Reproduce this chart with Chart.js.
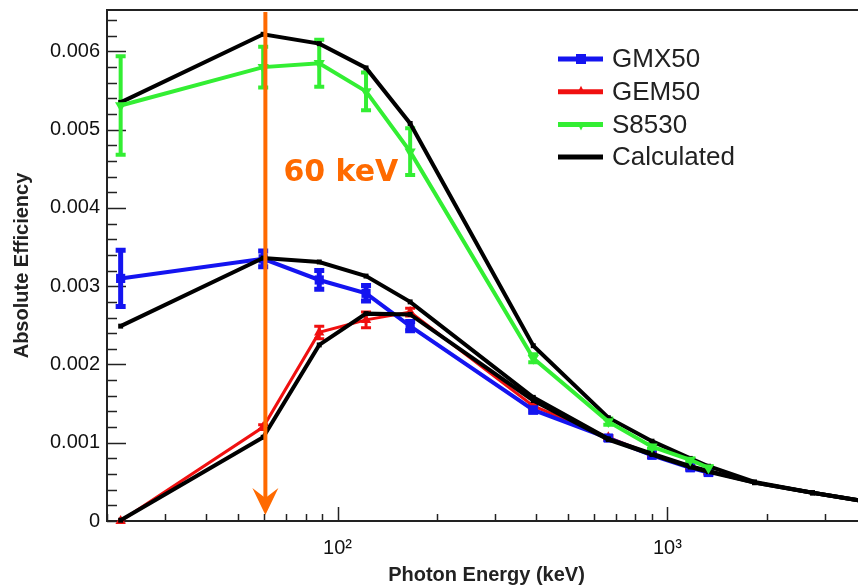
<!DOCTYPE html>
<html><head><meta charset="utf-8">
<script src="https://cdn.jsdelivr.net/npm/chart.js@4.4.1/dist/chart.umd.min.js"></script>
<style>
html,body{margin:0;padding:0;background:#fff;overflow:hidden;width:858px;height:587px}
#wrap{position:absolute;left:0;top:0;width:880px;height:587px}
</style>
</head><body><div id="wrap"><canvas id="c" width="880" height="587"></canvas></div>
<script>
// ---- data (efficiency vs photon energy in keV) ----
const energies      = [22, 59.5, 88, 122, 166, 392, 662, 898, 1173, 1332];
const gmx50         = [0.00310, 0.00335, 0.00308, 0.00291, 0.00249, 0.00142, 0.00106, 0.00084, 0.00068, 0.00062];
const gmx50Err      = [0.00036, 0.00010, 0.00012, 0.00010, 0.00006, 0.00003, 0.00002, 0.00002, 0.00002, 0.00002];
const gem50         = [0.00000, 0.00120, 0.00241, 0.00257, 0.00267, 0.00147, 0.00107, 0.00085, 0.00069, 0.00063];
const gem50Err      = [0.00000, 0.00003, 0.00008, 0.00010, 0.00005, 0.00003, 0.00002, 0.00002, 0.00002, 0.00002];
const s8530         = [0.00531, 0.00580, 0.00585, 0.00549, 0.00472, 0.00208, 0.00127, 0.00095, 0.00078, 0.00068];
const s8530Err      = [0.00063, 0.00026, 0.00030, 0.00024, 0.00030, 0.00005, 0.00004, 0.00003, 0.00002, 0.00002];

const calcEnergies  = [22, 59.5, 88, 122, 166, 392, 662, 898, 1173, 1332, 1836, 2754, 4000];
const calcGMX50     = [0.00249, 0.00336, 0.00331, 0.00313, 0.00280, 0.00158, 0.00105, 0.00086, 0.00070, 0.00064, 0.00049, 0.00036, 0.00025];
const calcGEM50     = [0.00001, 0.00107, 0.00225, 0.00265, 0.00264, 0.00154, 0.00104, 0.00085, 0.00069, 0.00063, 0.00049, 0.00036, 0.00025];
const calcS8530     = [0.00535, 0.00622, 0.00610, 0.00579, 0.00508, 0.00224, 0.00132, 0.00102, 0.00080, 0.00070, 0.00050, 0.00036, 0.00025];

const seriesNames   = ['GMX50', 'GEM50', 'S8530', 'Calculated'];
const yTickValues   = [0, 0.001, 0.002, 0.003, 0.004, 0.005, 0.006];
const yTickLabels   = ['0', '0.001', '0.002', '0.003', '0.004', '0.005', '0.006'];
const xTickValues   = [100, 1000];
const xTickLabels   = ['10\u00B2', '10\u00B3'];
const xMinorTicks   = [20, 30, 40, 50, 60, 70, 80, 90, 200, 300, 400, 500, 600, 700, 800, 900, 2000, 3000];
const arrowEnergy   = 60;
const arrowLabel    = '60 keV';

// ---- styles ----
const BLUE = '#1414f0', RED = '#f01010', GREEN = '#33ee33', BLACK = '#000000', ORANGE = '#ff6a00';
const FONT = "'Liberation Sans', Arial, sans-serif";

const pts = (xs, ys) => xs.map((x, i) => ({x, y: ys[i]}));

const datasets = [
  {label: seriesNames[0], data: pts(energies, gmx50), errorBars: gmx50Err, borderColor: BLUE, backgroundColor: BLUE,
   borderWidth: 4, pointStyle: 'rect', pointRadius: 6.5, pointBorderWidth: 0, order: 3, errW: 5},
  {label: seriesNames[1], data: pts(energies, gem50), errorBars: gem50Err, borderColor: RED, backgroundColor: RED,
   borderWidth: 3, pointStyle: 'triangle', pointRadius: 6, pointBorderWidth: 0, order: 4, errW: 3},
  {label: seriesNames[2], data: pts(energies, s8530), errorBars: s8530Err, borderColor: GREEN, backgroundColor: GREEN,
   borderWidth: 4, pointStyle: 'triangle', pointRotation: 180, pointRadius: 6.5, pointBorderWidth: 0, order: 0, errW: 4},
  {label: seriesNames[3], data: pts(calcEnergies, calcGMX50), borderColor: BLACK, backgroundColor: BLACK,
   borderWidth: 4, pointStyle: 'rect', pointRadius: 3.5, pointBorderWidth: 0, order: 2},
  {label: seriesNames[3], data: pts(calcEnergies, calcGEM50), borderColor: BLACK, backgroundColor: BLACK,
   borderWidth: 4, pointStyle: 'rect', pointRadius: 3.5, pointBorderWidth: 0, order: 2},
  {label: seriesNames[3], data: pts(calcEnergies, calcS8530), borderColor: BLACK, backgroundColor: BLACK,
   borderWidth: 4, pointStyle: 'rect', pointRadius: 3.5, pointBorderWidth: 0, order: 1}
];
datasets.forEach(d => { d.tension = 0; d.clip = false; d.fill = false; });

// frame + inside ticks
const framePlugin = {
  id: 'frame',
  beforeDatasetsDraw(chart) {
    const {ctx, chartArea: a, scales: {x, y}} = chart;
    ctx.save();
    ctx.strokeStyle = '#222';
    ctx.lineWidth = 1.5;
    ctx.beginPath();
    for (let k = 0; k <= 32; k++) {
      const v = k * 0.0002;
      const py = Math.round(y.getPixelForValue(v)) + 0.5;
      if (py < a.top) continue;
      const len = (k % 5 === 0) ? 19 : 10;
      ctx.moveTo(a.left, py); ctx.lineTo(a.left + len, py);
    }
    xMinorTicks.forEach(v => {
      const px = Math.round(x.getPixelForValue(v)) + 0.5;
      ctx.moveTo(px, a.bottom); ctx.lineTo(px, a.bottom - 7);
    });
    xTickValues.forEach(v => {
      const px = Math.round(x.getPixelForValue(v)) + 0.5;
      ctx.moveTo(px, a.bottom); ctx.lineTo(px, a.bottom - 14);
    });
    ctx.stroke();
    ctx.lineWidth = 2;
    ctx.strokeRect(a.left, a.top, a.right - a.left, a.bottom - a.top);
    ctx.restore();
  }
};

// vertical error bars
const errorBarPlugin = {
  id: 'errbars',
  beforeDatasetsDraw(chart) {
    const {ctx, scales: {x, y}} = chart;
    ctx.save();
    chart.data.datasets.forEach(ds => {
      if (!ds.errorBars) return;
      ctx.strokeStyle = ds.borderColor;
      ctx.lineWidth = ds.errW;
      ds.data.forEach((p, i) => {
        const e = ds.errorBars[i];
        if (!e) return;
        const px = x.getPixelForValue(p.x);
        const y1 = y.getPixelForValue(p.y + e), y2 = y.getPixelForValue(p.y - e);
        ctx.beginPath();
        ctx.moveTo(px, y1); ctx.lineTo(px, y2);
        ctx.moveTo(px - 5, y1); ctx.lineTo(px + 5, y1);
        ctx.moveTo(px - 5, y2); ctx.lineTo(px + 5, y2);
        ctx.stroke();
      });
    });
    ctx.restore();
  }
};

// orange 60 keV arrow annotation
const arrowPlugin = {
  id: 'arrow',
  afterDatasetsDraw(chart) {
    const {ctx, chartArea: a, scales: {x}} = chart;
    const px = x.getPixelForValue(arrowEnergy) + 1;
    const tip = a.bottom - 6;
    ctx.save();
    ctx.strokeStyle = ORANGE; ctx.fillStyle = ORANGE;
    ctx.lineWidth = 4;
    ctx.beginPath();
    ctx.moveTo(px, a.top + 2); ctx.lineTo(px, tip - 14);
    ctx.stroke();
    ctx.beginPath();
    ctx.moveTo(px, tip);
    ctx.lineTo(px - 13, tip - 27);
    ctx.lineTo(px, tip - 17);
    ctx.lineTo(px + 13, tip - 27);
    ctx.closePath();
    ctx.fill();
    ctx.font = "bold 30px 'DejaVu Sans', sans-serif";
    ctx.textBaseline = 'middle';
    ctx.textAlign = 'left';
    ctx.fillText(arrowLabel, px + 18, 173);
    ctx.restore();
  }
};

// legend
const legendPlugin = {
  id: 'rootLegend',
  afterDraw(chart) {
    const {ctx} = chart;
    const items = [
      {c: BLUE, m: 'rect'}, {c: RED, m: 'tri'}, {c: GREEN, m: 'itri'}, {c: BLACK, m: null}
    ];
    ctx.save();
    items.forEach((it, i) => {
      const cy = 59 + i * 32.7;
      ctx.strokeStyle = it.c; ctx.fillStyle = it.c;
      ctx.lineWidth = 5;
      ctx.beginPath(); ctx.moveTo(558, cy); ctx.lineTo(603, cy); ctx.stroke();
      const mx = 581;
      if (it.m === 'rect') ctx.fillRect(mx - 5, cy - 5, 10, 10);
      if (it.m === 'tri') { ctx.beginPath(); ctx.moveTo(mx, cy - 6); ctx.lineTo(mx - 4, cy + 2); ctx.lineTo(mx + 4, cy + 2); ctx.fill(); }
      if (it.m === 'itri') { ctx.beginPath(); ctx.moveTo(mx, cy + 6); ctx.lineTo(mx - 4, cy - 2); ctx.lineTo(mx + 4, cy - 2); ctx.fill(); }
      ctx.fillStyle = '#222';
      ctx.font = "26px " + FONT;
      ctx.textBaseline = 'middle';
      ctx.fillText(seriesNames[i], 612, cy + 1);
    });
    ctx.restore();
  }
};

new Chart(document.getElementById('c').getContext('2d'), {
  type: 'line',
  data: {datasets},
  options: {
    responsive: false, animation: false, devicePixelRatio: 1,
    layout: {padding: {top: 10, right: 14, left: 0, bottom: 0}},
    plugins: {legend: {display: false}, tooltip: {enabled: false}},
    scales: {
      x: {
        type: 'logarithmic', min: 20, max: 4000,
        afterFit(s) { s.height = 66; s.paddingLeft = 0; s.paddingRight = 0; },
        afterBuildTicks(s) { s.ticks = xTickValues.map(v => ({value: v})); },
        grid: {display: false, drawTicks: false}, border: {display: false},
        ticks: {autoSkip: false, maxRotation: 0, padding: 15, color: '#111',
                font: {family: FONT, size: 20},
                callback: (v, i) => xTickLabels[i]},
        title: {display: true, text: 'Photon Energy (keV)', color: '#222',
                font: {family: FONT, size: 20, weight: 'bold'}, padding: {top: 0, bottom: 0}}
      },
      y: {
        type: 'linear', min: 0, max: 0.00653,
        afterFit(s) { s.width = 107; s.paddingTop = 0; s.paddingBottom = 0; },
        afterBuildTicks(s) { s.ticks = yTickValues.map(v => ({value: v})); },
        grid: {display: false, drawTicks: false}, border: {display: false},
        ticks: {autoSkip: false, padding: 7, color: '#111',
                font: {family: FONT, size: 20},
                callback: (v, i) => yTickLabels[i]},
        title: {display: true, text: 'Absolute Efficiency', color: '#222',
                font: {family: FONT, size: 20, weight: 'bold'}, padding: {top: 10, bottom: 0}}
      }
    }
  },
  plugins: [framePlugin, errorBarPlugin, arrowPlugin, legendPlugin]
});
</script>
</body></html>
